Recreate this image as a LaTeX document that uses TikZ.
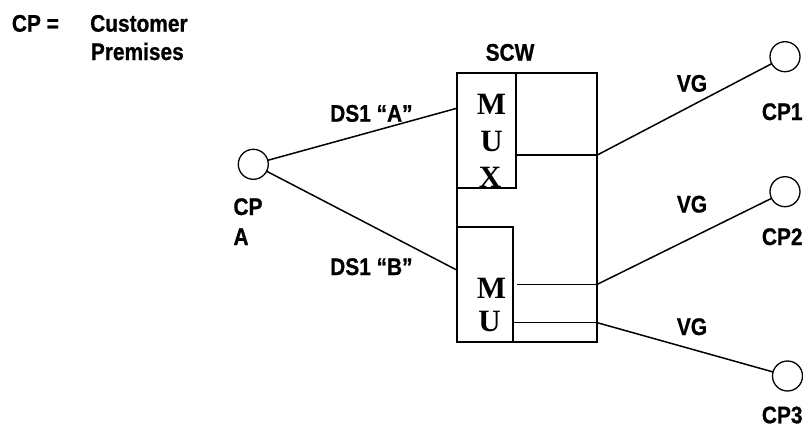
\documentclass[tikz,border=0pt]{standalone}
\usepackage{fontspec}
\setmainfont[FakeStretch=0.87,BoldFeatures={FakeBold=0.8}]{Liberation Sans}
\newfontfamily\muxfont{Liberation Serif}
\begin{document}
\begin{tikzpicture}[x=1pt,y=-1pt,
  lbl/.style={font=\bfseries\fontsize{24}{24}\selectfont,inner sep=0pt,anchor=base west},
  muxl/.style={font=\muxfont\bfseries\fontsize{31}{31}\selectfont,inner sep=0pt,anchor=base},
  cpnode/.style={draw,circle,line width=1.3pt,minimum size=30pt,inner sep=0pt,outer sep=0pt},
  boxn/.style={draw,line width=1.8pt,inner sep=0pt,outer sep=0pt,rectangle},
  wire/.style={line width=1.5pt}]
\useasboundingbox (0,0) rectangle (803,434);

% legend
\node[lbl] (cpeq) at (11.7,31.7) {CP =};
\node[lbl] (cust) at (90,31.7) {Customer};
\node[lbl] (prem) at (90.7,60) {Premises};

% boxes
\node[boxn,minimum width=140.6pt,minimum height=268.4pt] (scw) at (527,207.5) {};
\node[boxn,minimum width=59pt,minimum height=114.4pt] (mux1) at (486.2,130.5) {};
\node[boxn,minimum width=56.6pt,minimum height=115pt] (mux2) at (485,284.2) {};
\node[lbl,anchor=base] (scwl) at (510,60.7) {SCW};

% mux letters
\node[muxl] (m1) at (491.5,114) {M};
\node[muxl] (u1) at (491.5,151.7) {U};
\node[muxl] (x1) at (490,187.3) {X};
\node[muxl] (m2) at (491.5,298.3) {M};
\node[muxl] (u2) at (489.5,331.7) {U};

% internal lines
\coordinate (o1) at (597.3,155);
\coordinate (o2) at (597.3,284.3);
\coordinate (o3) at (597.3,322.7);
\coordinate (i1) at (515.7,155);
\coordinate (i2) at (517,284.3);
\coordinate (i3) at (513.3,322.7);
\draw[wire] (i1) -- (o1);
\draw[wire] (i2) -- (o2);
\draw[wire] (i3) -- (o3);

% customer premises
\node[cpnode] (cpa) at (253.3,164.3) {};
\node[cpnode] (cp1) at (785,56.7) {};
\node[cpnode] (cp2) at (785,191.7) {};
\node[cpnode] (cp3) at (787.5,376) {};

\coordinate (ina) at (456.7,108.3);
\coordinate (inb) at (456.7,270);
\draw[wire] (cpa) -- (ina);
\draw[wire] (cpa) -- (inb);
\draw[wire] (o1) -- (cp1);
\draw[wire] (o2) -- (cp2);
\draw[wire] (o3) -- (cp3);

% labels
\node[lbl] (dsa) at (330,121.7) {DS1 “A”};
\node[lbl] (dsb) at (330,275) {DS1 “B”};
\node[lbl] (cpal1) at (233.3,215) {CP};
\node[lbl] (cpal2) at (233.3,245) {A};
\node[lbl] (vg1) at (676.7,91.7) {VG};
\node[lbl] (vg2) at (676.7,212.5) {VG};
\node[lbl] (vg3) at (676.7,335) {VG};
\node[lbl] (cp1l) at (761.7,120) {CP1};
\node[lbl] (cp2l) at (761.7,245) {CP2};
\node[lbl] (cp3l) at (761.7,423.3) {CP3};
\end{tikzpicture}
\end{document}
